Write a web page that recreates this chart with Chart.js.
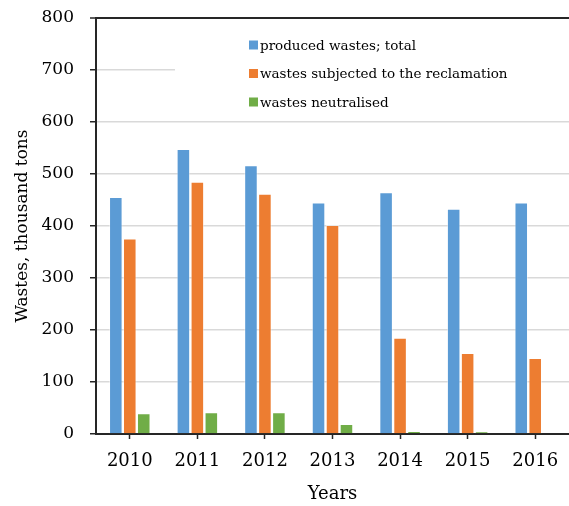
<!DOCTYPE html>
<html>
<head>
<meta charset="utf-8">
<script src="https://cdn.jsdelivr.net/npm/chart.js@4.4.1/dist/chart.umd.min.js"></script>
<style>
  body { margin: 0; background: #fff; }
  #wrap { width: 569px; height: 506px; }
</style>
</head>
<body>
<div id="wrap"><canvas id="grafica" width="569" height="506"></canvas></div>
<script>
const years = ["2010", "2011", "2012", "2013", "2014", "2015", "2016"];
const producedTotal = [456, 548, 517, 445, 465, 433, 445];
const reclaimed = [376, 485, 462, 402, 185, 156, 146];
const neutralised = [40, 42, 42, 19, 6, 5, 0];
const yTicks = [0, 100, 200, 300, 400, 500, 600, 700, 800];

const seriesNames = ["produced wastes; total", "wastes subjected to the reclamation", "wastes neutralised"];
const seriesColors = ["#5b9bd5", "#ed7d31", "#70ad47"];

const serif = "'DejaVu Serif', serif";
const dark = "#262626";

// legend sits inside the plot on a white box, so it hides part of the 700 gridline
const boxLegend = {
    id: "boxLegend",
    afterDraw(chart) {
        const c = chart.ctx;
        c.save();
        c.fillStyle = "#fff";
        c.fillRect(175, 30, 394, 84);
        chart.data.datasets.forEach((ds, i) => {
            const y = 45 + i * 28.5;
            c.fillStyle = ds.backgroundColor;
            c.fillRect(249, y - 4.5, 9, 9);
            c.fillStyle = "#000";
            c.font = "13.5px " + serif;
            c.textBaseline = "middle";
            c.fillText(ds.label, 260, y + 1);
        });
        c.restore();
    }
};

const ctx = document.getElementById("grafica").getContext("2d");
new Chart(ctx, {
    type: "bar",
    data: {
        labels: years,
        datasets: [producedTotal, reclaimed, neutralised].map((vals, i) => ({
            label: seriesNames[i],
            data: vals,
            backgroundColor: seriesColors[i],
            borderColor: "rgba(255,255,255,0.45)",
            borderWidth: 1,
            barPercentage: 0.97,
            categoryPercentage: 0.62
        }))
    },
    options: {
        responsive: false,
        animation: false,
        layout: { padding: { top: 18, right: 0, left: 0, bottom: 0 } },
        plugins: {
            legend: { display: false },
            tooltip: { enabled: false }
        },
        scales: {
            x: {
                grid: {
                    offset: false,
                    drawOnChartArea: false,
                    tickLength: 5,
                    tickColor: dark,
                    tickWidth: 1.5
                },
                border: { color: dark, width: 2 },
                ticks: {
                    color: "#000",
                    font: { family: serif, size: 18 },
                    padding: 12,
                    maxRotation: 0
                },
                title: {
                    display: true,
                    text: "Years",
                    color: "#000",
                    font: { family: serif, size: 18 },
                    padding: { bottom: 1 }
                },
                afterFit(scale) {
                    scale.height = 72;
                    scale.paddingLeft = 0;
                    scale.paddingRight = 0;
                }
            },
            y: {
                min: 0,
                max: 800,
                afterBuildTicks(scale) {
                    scale.ticks = yTicks.map(v => ({ value: v }));
                },
                grid: {
                    color: c => c.tick && c.tick.value === 800 ? dark : "#d9d9d9",
                    lineWidth: c => c.tick && c.tick.value === 800 ? 2 : 1.5,
                    tickLength: 6,
                    tickColor: dark,
                    tickWidth: 1.5
                },
                border: { color: dark, width: 2 },
                ticks: {
                    color: "#000",
                    font: { family: serif, size: 17 },
                    padding: 16
                },
                title: {
                    display: true,
                    text: "Wastes, thousand tons",
                    color: "#000",
                    font: { family: serif, size: 17 },
                    padding: { top: 12 }
                },
                afterFit(scale) {
                    scale.width = 96;
                    scale.paddingTop = 0;
                    scale.paddingBottom = 0;
                }
            }
        }
    },
    plugins: [boxLegend]
});
</script>
</body>
</html>
